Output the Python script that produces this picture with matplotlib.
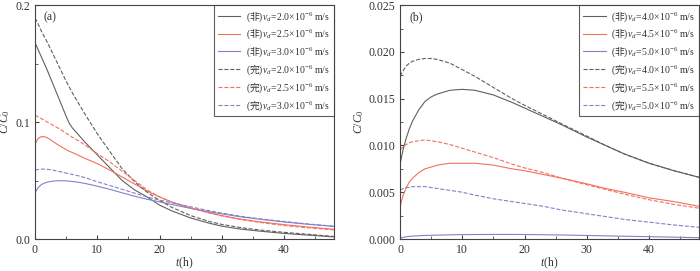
import matplotlib
matplotlib.use("Agg")
import matplotlib.pyplot as plt
from matplotlib.font_manager import FontProperties

plt.rcParams['font.family'] = ['Liberation Serif', 'Noto Sans CJK SC']
plt.rcParams['mathtext.fontset'] = 'custom'
plt.rcParams['mathtext.rm'] = 'Liberation Serif'
plt.rcParams['mathtext.it'] = 'Liberation Serif:italic'
plt.rcParams['font.size'] = 8.5

# panel (a): 非 = non-equilibrium, 完 = complete
t_a = [0, 0.5, 1, 1.5, 2, 3, 4, 5, 5.5, 6, 7, 8, 10, 12, 14, 16, 18, 20, 22, 25, 28, 30, 33, 36, 40, 44, 48]
a_non_20 = [0.168, 0.162, 0.156, 0.150, 0.144, 0.131, 0.118, 0.105, 0.099, 0.095, 0.089, 0.083, 0.072, 0.061,
            0.050, 0.042, 0.036, 0.029, 0.024, 0.018, 0.0135, 0.011, 0.0085, 0.0068, 0.0048, 0.0033, 0.0018]
a_non_25 = [0.081, 0.086, 0.0875, 0.0875, 0.0866, 0.083, 0.0795, 0.0765, 0.075, 0.074, 0.0715, 0.069, 0.0645, 0.059,
            0.053, 0.047, 0.041, 0.036, 0.0315, 0.0265, 0.0225, 0.020, 0.017, 0.0148, 0.0123, 0.0102, 0.0083]
a_non_30 = [0.0396, 0.044, 0.0465, 0.0478, 0.0487, 0.0496, 0.0499, 0.0497, 0.0495, 0.0492, 0.0485, 0.0476, 0.0452, 0.0425,
            0.0395, 0.0366, 0.034, 0.0318, 0.0295, 0.0262, 0.0233, 0.0215, 0.019, 0.017, 0.0146, 0.0125, 0.0108]
a_com_20 = [0.189, 0.184, 0.178, 0.173, 0.168, 0.157, 0.146, 0.135, 0.130, 0.125, 0.116, 0.107, 0.090, 0.075,
            0.060, 0.049, 0.040, 0.033, 0.027, 0.020, 0.015, 0.0125, 0.0098, 0.0078, 0.0057, 0.004, 0.0022]
a_com_25 = [0.106, 0.1045, 0.103, 0.1015, 0.100, 0.097, 0.094, 0.0905, 0.0888, 0.087, 0.084, 0.0805, 0.073, 0.066,
            0.058, 0.050, 0.042, 0.036, 0.0315, 0.0265, 0.0222, 0.0198, 0.0167, 0.0143, 0.0115, 0.0095, 0.0078]
a_com_30 = [0.0590, 0.0595, 0.0598, 0.0598, 0.0596, 0.0588, 0.0576, 0.0564, 0.0558, 0.0552, 0.054, 0.0526, 0.0490, 0.0458,
            0.0425, 0.0392, 0.036, 0.0333, 0.031, 0.0275, 0.0242, 0.0222, 0.0195, 0.0173, 0.015, 0.0128, 0.011]

# panel (b)
t_b = [0, 0.25, 0.5, 1, 1.5, 2, 3, 4, 5, 6, 8, 10, 12, 15, 18, 20, 23, 26, 30, 33, 36, 40, 44, 48]
b_non_40 = [0.0080, 0.0088, 0.0096, 0.0108, 0.0118, 0.0126, 0.0138, 0.0147, 0.0152, 0.0155, 0.0159, 0.0160,
            0.0159, 0.0154, 0.0146, 0.0140, 0.0131, 0.0122, 0.0109, 0.0100, 0.0091, 0.0081, 0.0073, 0.0066]
b_non_45 = [0.0034, 0.0041, 0.0047, 0.0055, 0.0061, 0.0065, 0.0071, 0.0075, 0.0077, 0.0079, 0.0081, 0.0081,
            0.0081, 0.0079, 0.0075, 0.0073, 0.0069, 0.0065, 0.0059, 0.0054, 0.0050, 0.0044, 0.0040, 0.0035]
b_non_50 = [0.0001, 0.00014, 0.00018, 0.00024, 0.00028, 0.00031, 0.00035, 0.00038, 0.0004, 0.00042, 0.00045, 0.00047,
            0.00048, 0.00049, 0.00049, 0.00048, 0.00046, 0.00043, 0.00038, 0.00034, 0.0003, 0.00025, 0.0002, 0.00014]
b_com_40 = [0.0174, 0.0177, 0.0180, 0.0185, 0.0188, 0.0190, 0.0192, 0.0193, 0.0193, 0.0192, 0.0188, 0.0181,
            0.0174, 0.0162, 0.0150, 0.0143, 0.0133, 0.0123, 0.0110, 0.0100, 0.0091, 0.0081, 0.0073, 0.0066]
b_com_55 = [0.0095, 0.0097, 0.0099, 0.0101, 0.0103, 0.0104, 0.0105, 0.0106, 0.0105, 0.0104, 0.0101, 0.0097,
            0.0093, 0.0087, 0.0080, 0.0076, 0.0071, 0.0065, 0.0058, 0.0053, 0.0048, 0.0042, 0.0037, 0.0033]
b_com_50 = [0.0052, 0.0053, 0.0054, 0.0055, 0.0055, 0.0056, 0.0056, 0.0056, 0.0055, 0.0054, 0.0052, 0.0050,
            0.0047, 0.0043, 0.0040, 0.0038, 0.0035, 0.0031, 0.0027, 0.0024, 0.0021, 0.0018, 0.0015, 0.00125]

gray = '#606060'
red = '#f2705e'
blue = '#8282c8'


def lab(tag, v):
    return r'$($' + tag + r'$)v_d\!=\!' + v + r'\!\times\!10^{-6}\ \mathrm{m/s}$'


fig = plt.figure(figsize=(7, 2.71), dpi=100)
ax1 = fig.add_axes([0.05, 0.118, 0.427, 0.863])
ax2 = fig.add_axes([0.5715, 0.118, 0.427, 0.863])

lw = 0.8
ax1.plot(t_a, a_non_20, color=gray, lw=lw, label=lab('非', '2.0'))
ax1.plot(t_a, a_non_25, color=red, lw=lw, label=lab('非', '2.5'))
ax1.plot(t_a, a_non_30, color=blue, lw=lw, label=lab('非', '3.0'))
ax1.plot(t_a, a_com_20, color=gray, lw=lw, ls='--', label=lab('完', '2.0'))
ax1.plot(t_a, a_com_25, color=red, lw=lw, ls='--', label=lab('完', '2.5'))
ax1.plot(t_a, a_com_30, color=blue, lw=lw, ls='--', label=lab('完', '3.0'))

ax2.plot(t_b, b_non_40, color=gray, lw=lw, label=lab('非', '4.0'))
ax2.plot(t_b, b_non_45, color=red, lw=lw, label=lab('非', '4.5'))
ax2.plot(t_b, b_non_50, color=blue, lw=lw, label=lab('非', '5.0'))
ax2.plot(t_b, b_com_40, color=gray, lw=lw, ls='--', label=lab('完', '4.0'))
ax2.plot(t_b, b_com_55, color=red, lw=lw, ls='--', label=lab('完', '5.5'))
ax2.plot(t_b, b_com_50, color=blue, lw=lw, ls='--', label=lab('完', '5.0'))

ax1.set_ylim(0, 0.2)
ax1.set_yticks([0.0, 0.1, 0.2])
ax1.set_yticks([0.05, 0.15], minor=True)
ax2.set_ylim(0, 0.025)
ax2.set_yticks([0.0, 0.005, 0.01, 0.015, 0.02, 0.025])
ax2.set_yticks([0.0025, 0.0075, 0.0125, 0.0175, 0.0225], minor=True)

legprop = FontProperties(family='Noto Sans CJK SC', size=7)
for ax, tag in [(ax1, '(a)'), (ax2, '(b)')]:
    ax.set_xlim(0, 48)
    ax.set_xticks([0, 10, 20, 30, 40])
    ax.set_xticks([5, 15, 25, 35, 45], minor=True)
    ax.tick_params(which='both', direction='in', color='#444444', labelcolor='#333333')
    ax.tick_params(which='major', length=3, width=0.8)
    ax.tick_params(which='minor', length=2, width=0.6)
    for s in ax.spines.values():
        s.set_color('#444444')
        s.set_linewidth(0.8)
    ax.set_xlabel(r'$t$(h)', labelpad=0, color='#333333')
    ax.set_ylabel(r'$C/C_0$', labelpad=2, color='#333333')
    ax.text(0.03, 0.975, tag, transform=ax.transAxes, va='top', ha='left', color='#333333')
    leg = ax.legend(loc='upper right', prop=legprop, frameon=True, fancybox=False,
                    borderaxespad=0, handlelength=2.3, handletextpad=0.6,
                    labelspacing=0.34, borderpad=0.4, edgecolor='#333333')
    leg.get_frame().set_linewidth(0.8)
    for txt in leg.get_texts():
        txt.set_color('#333333')

fig.savefig('out.png', dpi=100)
